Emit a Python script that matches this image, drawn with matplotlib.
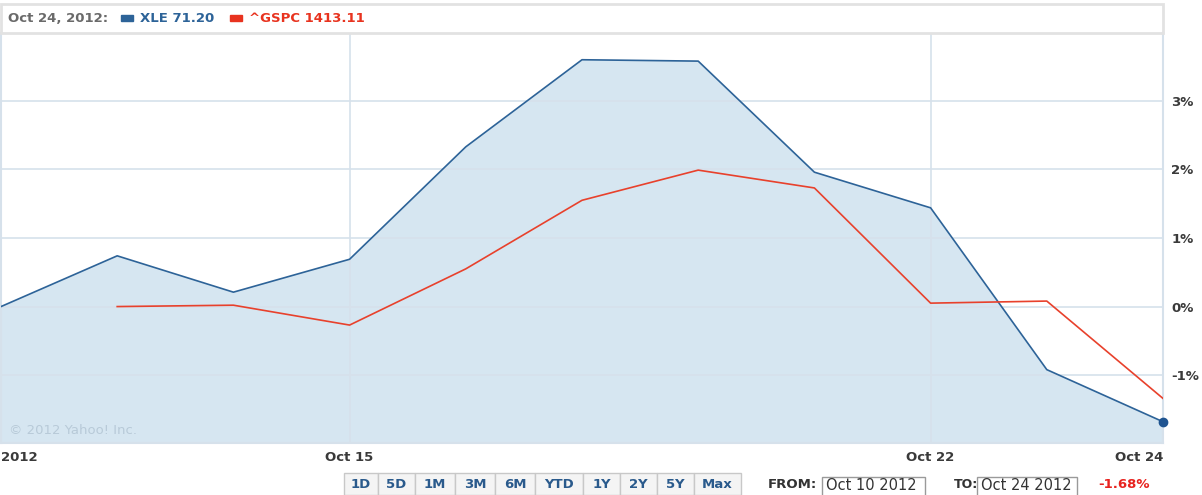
import numpy as np
import matplotlib.pyplot as plt
from matplotlib.patches import Rectangle

days = ['Oct 10', 'Oct 11', 'Oct 12', 'Oct 15', 'Oct 16', 'Oct 17',
        'Oct 18', 'Oct 19', 'Oct 22', 'Oct 23', 'Oct 24']
xle_pct = [0.00, 0.74, 0.21, 0.69, 2.33, 3.60, 3.58, 1.96, 1.44, -0.92, -1.68]
gspc_pct = [np.nan, 0.00, 0.02, -0.27, 0.55, 1.55, 1.99, 1.73, 0.05, 0.08, -1.34]

tick_days = ['Oct 10', 'Oct 15', 'Oct 22', 'Oct 24']
tick_labels = ['2012', 'Oct 15', 'Oct 22', 'Oct 24']
y_ticks = [-1, 0, 1, 2, 3]

header_date = 'Oct 24, 2012:'
legend_items = [('XLE 71.20', '#2d6398'), ('^GSPC 1413.11', '#e8331f')]
range_buttons = ['1D', '5D', '1M', '3M', '6M', 'YTD', '1Y', '2Y', '5Y', 'Max']
range_from, range_to, range_change = 'Oct 10 2012', 'Oct 24 2012', '-1.68%'

plt.rcParams['font.family'] = 'DejaVu Sans'

W, H = 1202, 495
fig = plt.figure(figsize=(W / 100, H / 100), dpi=100)
ax = fig.add_axes([1 / W, 1 - 443 / H, 1162 / W, 410 / H])

x = np.arange(len(days))
grid_c = '#d6e1eb'
ax.fill_between(x, xle_pct, -5, color='#d6e6f1', lw=0, zorder=1)
ax.plot(x, xle_pct, color='#2d6398', lw=1.2, zorder=3)
ax.plot(x, gspc_pct, color='#e8412c', lw=1.2, zorder=3)
ax.plot(x[-1], xle_pct[-1], 'o', color='#1f5490', ms=6, zorder=4, clip_on=False)

ax.set_xlim(0, len(days) - 1)
ax.set_ylim(-1.99, 3.99)
ax.set_xticks([days.index(d) for d in tick_days], tick_labels)
ax.set_yticks(y_ticks, [f'{v}%' for v in y_ticks])
ax.yaxis.tick_right()
ax.tick_params(length=0, labelsize=9.5, labelcolor='#3a3a3a')
ax.tick_params(axis='x', pad=6)
ax.tick_params(axis='y', pad=6)
for lab in ax.get_xticklabels() + ax.get_yticklabels():
    lab.set_fontweight('bold')
xl = ax.get_xticklabels()
xl[0].set_ha('left')
xl[-1].set_ha('right')
ax.grid(True, color=grid_c, lw=1.2, zorder=2)
ax.set_axisbelow(False)
for s in ax.spines.values():
    s.set_color(grid_c)
    s.set_linewidth(1.5)
ax.spines['top'].set_visible(False)
ax.set_facecolor('white')

ax.text(0.007, 0.022, '\u00a9 2012 Yahoo! Inc.', transform=ax.transAxes,
        fontsize=9.5, color='#b8cad8', zorder=5)

# header box
fig.patches.append(Rectangle((1 / W, 1 - 33 / H), 1162 / W, 29 / H,
                             transform=fig.transFigure, fill=False,
                             ec='#e2e2e2', lw=2))
hy = 1 - 18 / H
fig.text(8 / W, hy, header_date, fontsize=9.5, fontweight='bold',
         color='#6a6a6a', va='center')
lx = 121
for name, col in legend_items:
    fig.patches.append(Rectangle((lx / W, 1 - 21 / H), 12 / W, 6 / H,
                                 transform=fig.transFigure, color=col))
    fig.text((lx + 19) / W, hy, name, fontsize=9.5, fontweight='bold',
             color=col, va='center')
    lx += 109

# range buttons
bx = [344, 378, 415, 455, 495, 535, 583, 620, 657, 694, 741]
for i, lab in enumerate(range_buttons):
    x0, x1 = bx[i], bx[i + 1]
    fig.patches.append(Rectangle((x0 / W, 0), (x1 - x0) / W, 22 / H,
                                 transform=fig.transFigure, fc='#f4f4f4',
                                 ec='#c8c8c8', lw=1))
    fig.text((x0 + x1) / 2 / W, 1 - 485 / H, lab, fontsize=9.5,
             fontweight='bold', color='#2a5a8c', ha='center', va='center')

fy = 1 - 485 / H
fig.text(768 / W, fy, 'FROM:', fontsize=9.5, fontweight='bold',
         color='#333333', va='center')
fig.patches.append(Rectangle((822 / W, -0.01), 103 / W, 23 / H,
                             transform=fig.transFigure, fc='white',
                             ec='#9a9a9a', lw=1))
fig.text(826 / W, fy, range_from, fontsize=10.5, color='#333333', va='center')
fig.text(954 / W, fy, 'TO:', fontsize=9, fontweight='bold',
         color='#333333', va='center')
fig.patches.append(Rectangle((977 / W, -0.01), 100 / W, 23 / H,
                             transform=fig.transFigure, fc='white',
                             ec='#9a9a9a', lw=1))
fig.text(981 / W, fy, range_to, fontsize=10.5, color='#333333', va='center')
fig.text(1098 / W, fy, range_change, fontsize=9.5, fontweight='bold',
         color='#e8231f', va='center')

fig.savefig('out.png', dpi=100)
